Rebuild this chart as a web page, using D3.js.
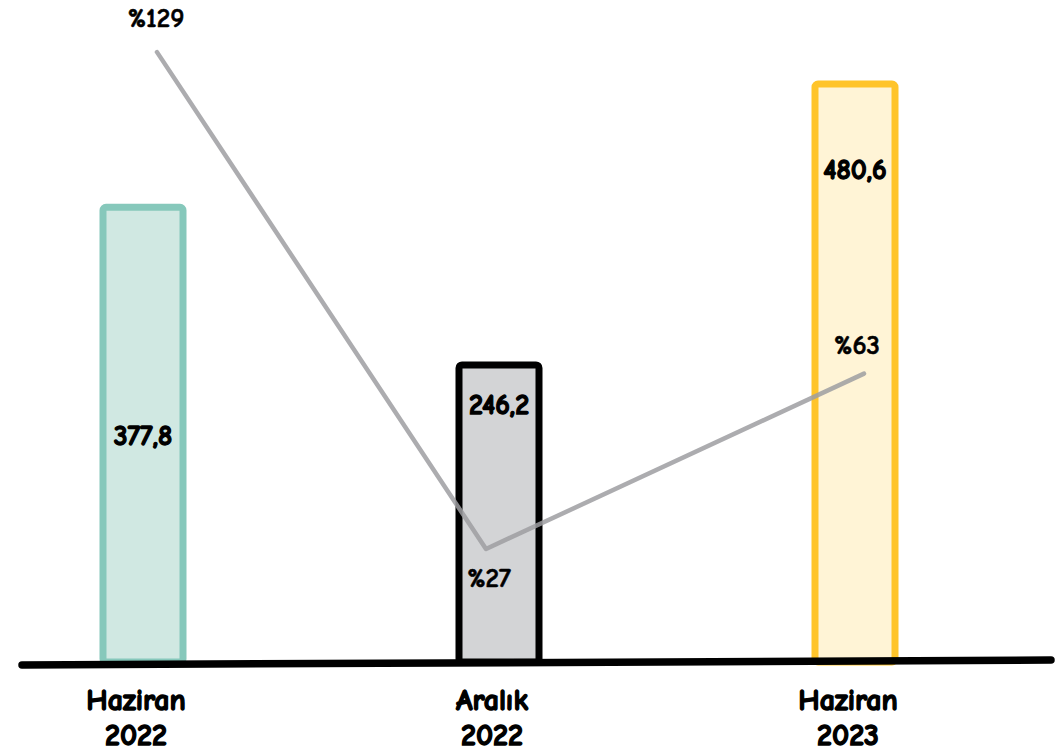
<!DOCTYPE html>
<html><head><meta charset="utf-8">
<script src="https://cdn.jsdelivr.net/npm/d3@7"></script>
<style>
html,body{margin:0;padding:0;background:#fff;}
svg{display:block;}
text{font-family:"Comic Neue","Lato","Open Sans",sans-serif;}
</style></head>
<body><svg id="c" width="1055" height="752"></svg>
<script>
// ---- data ----
const categories = [["Haziran","2022"],["Aralık","2022"],["Haziran","2023"]];
const barValues = [377.8, 246.2, 480.6];
const barLabels = ["377,8", "246,2", "480,6"];
const lineValues = [129, 27, 63];
const lineLabels = ["%129", "%27", "%63"];

// ---- styles ----
const strokeColors = ["#86c8bb", "#000000", "#ffc42a"];
const fillColors = ["#d0e8e2", "#d3d4d6", "#fff4d6"];
const labelFrac = [0.5, 0.87, 0.855];
const lineLabelDy = [-34, 30, -28];

const svg = d3.select("#c");
const baseY = 662;
const keys = categories.map(c => c.join(" "));
const x = d3.scalePoint().domain(keys).range([143, 855]);
const y = d3.scaleLinear().domain([0, 552.4]).range([baseY, 0]);
const y2 = d3.scaleLinear().domain([3.8, 139.7]).range([baseY, 0]);
const barW = 80;

// bars
svg.append("g").selectAll("rect").data(barValues).join("rect")
  .attr("x", (d,i) => x(keys[i]) - barW/2)
  .attr("y", d => y(d) - 2)
  .attr("width", barW)
  .attr("height", d => baseY - y(d) + 2)
  .attr("rx", 3)
  .attr("fill", (d,i) => fillColors[i])
  .attr("stroke", (d,i) => strokeColors[i])
  .attr("stroke-width", 7)
  .attr("stroke-linejoin", "round");

// baseline
svg.append("line")
  .attr("x1", 22).attr("x2", 1051)
  .attr("y1", baseY + 3).attr("y2", baseY - 2)
  .attr("stroke", "#000").attr("stroke-width", 7.5).attr("stroke-linecap", "round");

// bar value labels
svg.append("g").selectAll("text").data(barValues).join("text")
  .attr("x", (d,i) => x(keys[i]))
  .attr("y", (d,i) => y(d * labelFrac[i]))
  .attr("text-anchor", "middle").attr("dominant-baseline", "central")
  .attr("font-size", 28).attr("font-weight", "bold").attr("fill", "#000")
  .attr("stroke", "#000").attr("stroke-width", 1.3)
  .text((d,i) => barLabels[i]);

// line
const line = d3.line().x((d,i) => x(keys[i]) + [14,-13,9][i]).y(d => y2(d));
svg.append("path").datum(lineValues)
  .attr("d", line)
  .attr("fill", "none")
  .attr("stroke", "#9d9ea1").attr("stroke-opacity", 0.85)
  .attr("stroke-width", 4.5).attr("stroke-linecap", "round").attr("stroke-linejoin", "round");

// line labels
svg.append("g").selectAll("text").data(lineValues).join("text")
  .attr("x", (d,i) => x(keys[i]) + [13,-10,2][i])
  .attr("y", (d,i) => y2(d) + lineLabelDy[i])
  .attr("text-anchor", "middle").attr("dominant-baseline", "central")
  .attr("font-size", 27).attr("font-weight", "bold").attr("fill", "#000")
  .attr("stroke", "#000").attr("stroke-width", 0.6)
  .text((d,i) => lineLabels[i]);

// category labels
const cat = svg.append("g").selectAll("text").data(categories).join("text")
  .attr("x", (d,i) => x(keys[i]) - 7)
  .attr("text-anchor", "middle")
  .attr("font-size", 30).attr("font-weight", "bold").attr("fill", "#000")
  .attr("stroke", "#000").attr("stroke-width", 1.4);
cat.append("tspan").attr("y", 710).text(d => d[0]);
cat.append("tspan").attr("x", (d,i) => x(keys[i]) - 7).attr("y", 745).text(d => d[1]);
</script>
</body></html>
